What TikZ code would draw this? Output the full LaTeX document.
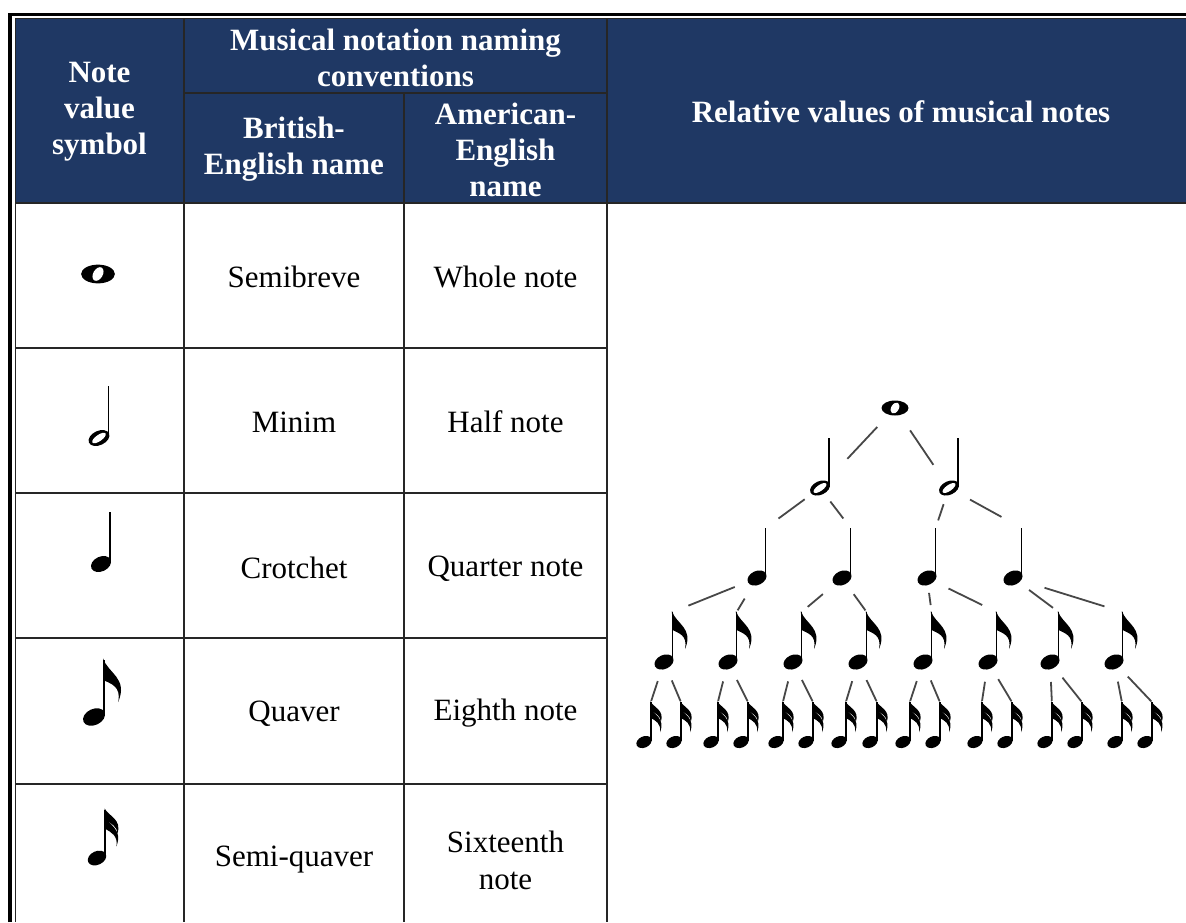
\documentclass[tikz,border=0pt]{standalone}
\usepackage{fontspec}
\setmainfont{Liberation Serif}
\definecolor{navy}{RGB}{31,56,100}
\newcommand{\notebody}{%
  \fill[rotate=25] (0,0) ellipse (10 and 7);
  \draw[line width=1.7pt] (8.6,-1) -- (8.6,-50);
  \coordinate (-c) at (0,0);
  \coordinate (-top) at (8.6,-50);}
\tikzset{
  hdr/.style={text=white, font=\fontsize{31}{36}\selectfont\bfseries, align=center, inner sep=0pt},
  cell/.style={font=\fontsize{31}{37}\selectfont, align=center, inner sep=0pt},
  grid/.style={line width=1.6pt, draw=black!85},
  link/.style={line width=1.8pt, draw=black!72},
  leaf/.style={link, shorten <=20pt, shorten >=1pt},
  wholenote/.pic={
    \fill (0,0) ellipse (13.5 and 7.5);
    \fill[white, rotate=-30] (0,0) ellipse (3.8 and 5.9);
    \coordinate (-c) at (0,0);},
  halfnote/.pic={
    \fill[rotate=25] (0,0) ellipse (10.5 and 6.8);
    \fill[white, rotate=35] (0,0) ellipse (7.6 and 3);
    \draw[line width=1.7pt] (9,-1) -- (9,-50);
    \coordinate (-c) at (0,0);
    \coordinate (-top) at (9,-50);},
  quarternote/.pic={\notebody},
  eighthnote/.pic={\notebody
    \fill (7.9,-51) .. controls (12,-38) and (30,-34) .. (21,-13)
      .. controls (24,-27) and (14,-29) .. (8.6,-32) -- cycle;},
  sixteenthnote/.pic={\notebody
    \fill (7.9,-51) .. controls (12,-43) and (26,-40) .. (21,-25)
      .. controls (21,-33) and (14,-36) .. (8.6,-39) -- cycle;
    \fill (8.6,-42) .. controls (12,-34) and (27,-30) .. (20,-12)
      .. controls (22,-23) and (14,-27) .. (8.6,-30) -- cycle;}
}

\begin{document}
\begin{tikzpicture}[x=1pt, y=-1pt]
\useasboundingbox (0,0) rectangle (1186,922);
\fill[white] (0,0) rectangle (1186,922);

% header band
\fill[navy] (15,18) rectangle (1186,203);

% outer frame
\draw[line width=3.5pt] (10,922) -- (10,14.5) -- (1186,14.5);

% table rules
\draw[grid] (15.5,922) -- (15.5,18.5) -- (1186,18.5);
\draw[grid] (15,203) -- (1186,203);
\draw[grid] (184,18) -- (184,922);
\draw[grid] (404,93) -- (404,922);
\draw[grid] (607,18) -- (607,922);
\draw[grid] (184,93) -- (607,93);
\draw[grid] (15,348) -- (607,348);
\draw[grid] (15,493) -- (607,493);
\draw[grid] (15,638) -- (607,638);
\draw[grid] (15,784) -- (607,784);

% header texts
\node[hdr] (hsym) at (99.5,112) {Note\\value\\symbol};
\node[hdr] (hconv) at (395.5,58) {Musical notation naming\\conventions};
\node[hdr] (hbrit) at (294,149) {British-\\English name};
\node[hdr] (hamer) at (505.5,150) {American-\\English\\name};
\node[hdr] (hrel) at (901,112) {Relative values of musical notes};

% names
\node[cell] (brit1) at (294,277) {Semibreve};
\node[cell] (amer1) at (505.5,277) {Whole note};
\node[cell] (brit2) at (294,422) {Minim};
\node[cell] (amer2) at (505.5,422) {Half note};
\node[cell] (brit3) at (294,568) {Crotchet};
\node[cell] (amer3) at (505.5,569) {Quarter note};
\node[cell] (brit4) at (294,714) {Quaver};
\node[cell] (amer4) at (505.5,713) {Eighth note};
\node[cell] (brit5) at (294,860) {Semi-quaver};
\node[cell] (amer5) at (505.5,860) {Sixteenth\\note};

% symbols column
\pic[scale=1.25] (tw) at (98,274) {wholenote};
\pic[scale=1.05] (th) at (99,438) {halfnote};
\pic[scale=1.05] (tq) at (101,564) {quarternote};
\pic[scale=1.15] (te) at (94,717) {eighthnote};
\pic[scale=0.97] (ts) at (97,858) {sixteenthnote};

% tree of note values
\pic (w) at (895,408) {wholenote};
\pic (h1) at (820,488) {halfnote};
\pic (h2) at (949,488) {halfnote};
\pic (q1) at (757,578) {quarternote};
\pic (q2) at (842,578) {quarternote};
\pic (q3) at (927,578) {quarternote};
\pic (q4) at (1013,578) {quarternote};
\pic (e1) at (664,662) {eighthnote};
\pic (e2) at (728,662) {eighthnote};
\pic (e3) at (793,662) {eighthnote};
\pic (e4) at (858,662) {eighthnote};
\pic (e5) at (923,662) {eighthnote};
\pic (e6) at (988,662) {eighthnote};
\pic (e7) at (1050,662) {eighthnote};
\pic (e8) at (1114,662) {eighthnote};
\pic[scale=0.8] (s1) at (644,742) {sixteenthnote};
\pic[scale=0.8] (s2) at (674,742) {sixteenthnote};
\pic[scale=0.8] (s3) at (711,742) {sixteenthnote};
\pic[scale=0.8] (s4) at (741,742) {sixteenthnote};
\pic[scale=0.8] (s5) at (776,742) {sixteenthnote};
\pic[scale=0.8] (s6) at (806,742) {sixteenthnote};
\pic[scale=0.8] (s7) at (839,742) {sixteenthnote};
\pic[scale=0.8] (s8) at (870,742) {sixteenthnote};
\pic[scale=0.8] (s9) at (903,742) {sixteenthnote};
\pic[scale=0.8] (s10) at (933,742) {sixteenthnote};
\pic[scale=0.8] (s11) at (975,742) {sixteenthnote};
\pic[scale=0.8] (s12) at (1005,742) {sixteenthnote};
\pic[scale=0.8] (s13) at (1045,742) {sixteenthnote};
\pic[scale=0.8] (s14) at (1075,742) {sixteenthnote};
\pic[scale=0.8] (s15) at (1115,742) {sixteenthnote};
\pic[scale=0.8] (s16) at (1145,742) {sixteenthnote};

% whole to halves
\draw[link, shorten <=26pt, shorten >=40pt] (w-c) -- (h1-c);
\draw[link, shorten <=27pt, shorten >=28pt] (w-c) -- (h2-c);

% halves to quarters
\draw[link, shorten <=19pt, shorten >=16pt] (h1-c) -- (q1-top);
\draw[link, shorten <=17pt, shorten >=12pt] (h1-c) -- (q2-top);
\draw[link, shorten <=17pt, shorten >=8pt] (h2-c) -- (q3-top);
\draw[link, shorten <=24pt, shorten >=23pt] (h2-c) -- (q4-top);

% quarters to eighths
\draw[link, shorten <=24pt, shorten >=17pt] (q1-c) -- (e1-top);
\draw[link, shorten <=24pt, shorten >=2pt] (q1-c) -- (e2-top);
\draw[link, shorten <=25pt, shorten >=8pt] (q2-c) -- (e3-top);
\draw[link, shorten <=20pt, shorten >=2pt] (q2-c) -- (e4-top);
\draw[link, shorten <=15pt, shorten >=7pt] (q3-c) -- (e5-top);
\draw[link, shorten <=24pt, shorten >=16pt] (q3-c) -- (e6-top);
\draw[link, shorten <=20pt, shorten >=7pt] (q4-c) -- (e7-top);
\draw[link, shorten <=33pt, shorten >=19pt] (q4-c) -- (e8-top);

% eighths to sixteenths
\draw[leaf] (e1-c) -- (s1-top);
\draw[leaf] (e1-c) -- (s2-top);
\draw[leaf] (e2-c) -- (s3-top);
\draw[leaf] (e2-c) -- (s4-top);
\draw[leaf] (e3-c) -- (s5-top);
\draw[leaf] (e3-c) -- (s6-top);
\draw[leaf] (e4-c) -- (s7-top);
\draw[leaf] (e4-c) -- (s8-top);
\draw[leaf] (e5-c) -- (s9-top);
\draw[leaf] (e5-c) -- (s10-top);
\draw[leaf] (e6-c) -- (s11-top);
\draw[leaf] (e6-c) -- (s12-top);
\draw[leaf] (e7-c) -- (s13-top);
\draw[leaf] (e7-c) -- (s14-top);
\draw[leaf] (e8-c) -- (s15-top);
\draw[leaf] (e8-c) -- (s16-top);

\end{tikzpicture}
\end{document}
